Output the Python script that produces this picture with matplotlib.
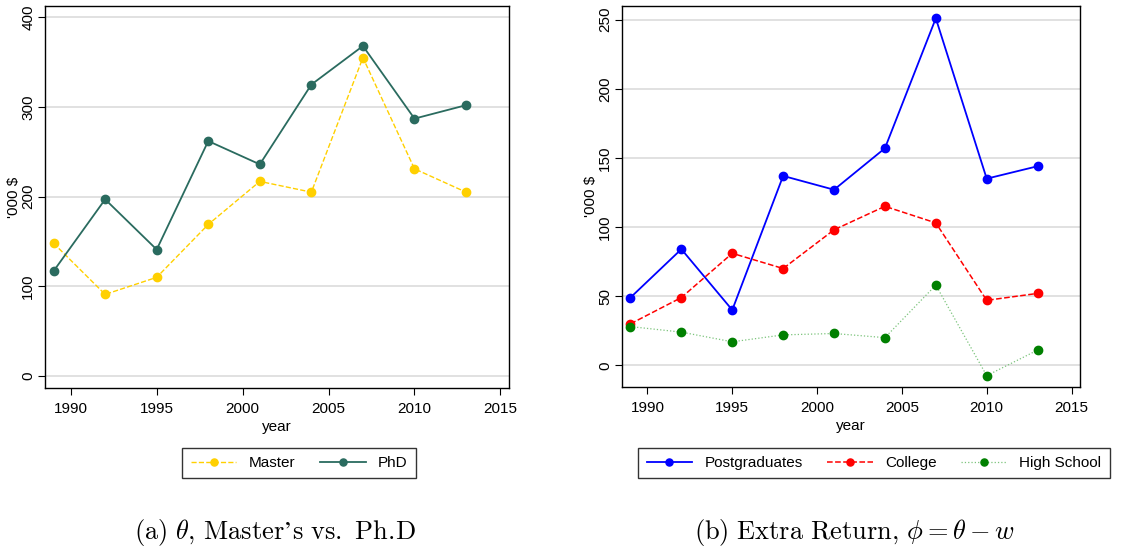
import matplotlib
matplotlib.use("Agg")
import matplotlib.pyplot as plt
from matplotlib import font_manager

# pick a narrow sans if present (Stata-like), else plain Liberation Sans
names = {f.name for f in font_manager.fontManager.ttflist}
SANS = ["Liberation Sans Narrow", "Liberation Sans", "DejaVu Sans"]
SANS = [n for n in SANS if n in names] or ["DejaVu Sans"]
plt.rcParams["font.family"] = SANS
plt.rcParams["mathtext.fontset"] = "cm"

years = [1989, 1992, 1995, 1998, 2001, 2004, 2007, 2010, 2013]

# panel (a)
master = [148, 91, 110, 169, 217, 205, 355, 231, 205]
phd = [117, 197, 141, 262, 236, 325, 368, 287, 302]

# panel (b)
postgrad = [49, 84, 40, 137, 127, 157, 251, 135, 144]
college = [30, 49, 81, 70, 98, 115, 103, 47, 52]
highschool = [28, 24, 17, 22, 23, 20, 58, -7.5, 11]

xticks = [1990, 1995, 2000, 2005, 2010, 2015]
yticks_a = [0, 100, 200, 300, 400]
yticks_b = [0, 50, 100, 150, 200, 250]

W, H = 1137, 550
FS = 11
fig = plt.figure(figsize=(W / 100, H / 100), dpi=100)

ax1 = fig.add_axes([45 / W, 1 - 388 / H, (509 - 45) / W, (388 - 6) / H])
ax2 = fig.add_axes([622 / W, 1 - 387 / H, (1080 - 622) / W, (387 - 6) / H])


def style(ax, yticks, ylim):
    ax.set_xlim(1988.5, 2015.5)
    ax.set_ylim(*ylim)
    ax.set_xticks(xticks)
    ax.set_yticks(yticks)
    ax.grid(axis="y", color="#dcdcdc", lw=1.2)
    ax.set_axisbelow(True)
    for s in ax.spines.values():
        s.set_linewidth(1.0)
    ax.tick_params(direction="out", length=5, width=0.8, labelsize=FS)
    ax.tick_params(axis="x", pad=5)
    ax.tick_params(axis="y", pad=2)
    for lab in ax.get_yticklabels():
        lab.set_rotation(90)
        lab.set_va("center")
    ax.set_xlabel("year", fontsize=FS, labelpad=3)
    ax.set_ylabel("'000 $", fontsize=FS, labelpad=0)


ms = 6
ax1.plot(years, master, ls="--", color="#ffd000", lw=1.0, marker="o", ms=ms, label="Master")
ax1.plot(years, phd, ls="-", color="#2a6b5f", lw=1.3, marker="o", ms=ms, label="PhD")
style(ax1, yticks_a, (-13.4, 412.6))

ax2.plot(years, postgrad, ls="-", color="#0000ff", lw=1.3, marker="o", ms=ms, label="Postgraduates")
ax2.plot(years, college, ls="--", color="#ff0000", lw=1.1, marker="o", ms=ms, label="College")
ax2.plot(years, highschool, ls=":", color="#7cc47c", lw=0.9, marker="o", ms=ms, label="High School",
         markerfacecolor="#008000", markeredgecolor="#008000")
style(ax2, yticks_b, (-15.7, 259.9))

for ax, cx in ((ax1, 299 / W), (ax2, 874 / W)):
    leg = ax.legend(loc="center", bbox_to_anchor=(cx, 1 - 463 / H), bbox_transform=fig.transFigure,
                    ncol=3, frameon=True, fancybox=False, fontsize=FS, handlelength=3.0,
                    columnspacing=1.6, handletextpad=0.8, borderpad=0.55, markerscale=0.85)
    leg.get_frame().set_edgecolor("black")
    leg.get_frame().set_linewidth(1.0)

# mathtext pads punctuation by itself, so spaces are trimmed around , and .
fig.text(275 / W, 1 - 533 / H, r"$\mathrm{(a)}\ \theta,\,\mathrm{Master’s\ vs.\ Ph.\!D}$",
         ha="center", va="center", fontsize=19)
fig.text(854 / W, 1 - 533 / H, r"$\mathrm{(b)\ Extra\ Return,}\,\phi=\theta-w$",
         ha="center", va="center", fontsize=19)

fig.savefig("out.png", dpi=100)
